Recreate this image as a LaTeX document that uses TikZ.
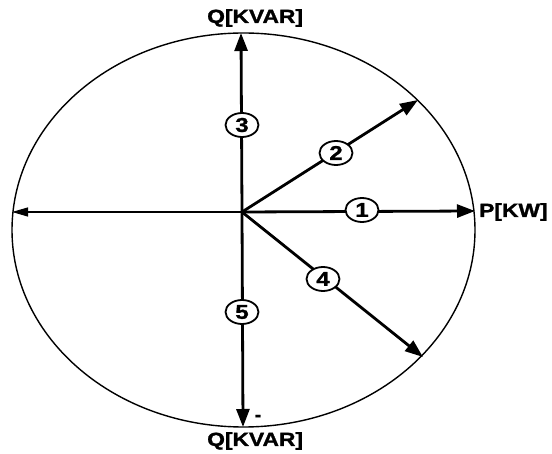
\documentclass[tikz,border=0pt]{standalone}
\usepackage{fontspec}
\setmainfont{Liberation Sans}
\newfontfamily\heavyfont[FakeBold=1.2]{Liberation Sans Bold}
\usetikzlibrary{arrows.meta,shapes.geometric}
\newcommand{\wide}[1]{\scalebox{1.2}[1]{#1}}
\begin{document}
\begin{tikzpicture}[x=1pt,y=-1pt,
  vec/.style={line width=2.8pt,-{Triangle[length=18pt,width=13pt]}},
  thinvec/.style={line width=1.2pt,-{Triangle[length=16pt,width=9pt]}},
  numlab/.style={draw,ellipse,line width=1.8pt,fill=white,inner sep=0pt,
    minimum width=33pt,minimum height=24pt,font=\heavyfont\fontsize{20}{20}\selectfont},
  axlab/.style={font=\heavyfont\fontsize{19}{19}\selectfont,inner sep=0pt}]
\useasboundingbox (0,0) rectangle (552,454);
\coordinate (O) at (242,212);
\coordinate (T) at (241,33);
\coordinate (B) at (243,427);
\coordinate (R) at (475,211);
\coordinate (L) at (12,212);
\coordinate (A2) at (418,100);
\coordinate (A4) at (423,357);
\draw[line width=1.4pt] (243.5,230) ellipse [x radius=231.5,y radius=197];
\draw[thinvec] (O) -- (L);
\draw[vec] (O) -- (T);
\draw[vec] (O) -- (B);
\draw[vec] (O) -- (R);
\draw[vec] (O) -- (A2);
\draw[vec] (O) -- (A4);
\node[numlab] (n3) at (242,125) {\wide{3}};
\node[numlab] (n2) at (336,153) {\wide{2}};
\node[numlab] (n1) at (362,210) {\wide{1}};
\node[numlab] (n4) at (323,279) {\wide{4}};
\node[numlab] (n5) at (242,312) {\wide{5}};
\node[axlab,anchor=west] (qt) at (207,18) {\wide{Q[KVAR]}};
\node[axlab,anchor=west] (qb) at (207,441) {\wide{Q[KVAR]}};
\node[axlab,anchor=west] (pk) at (479,212) {\wide{P[KW]}};
\node[axlab] (minus) at (258,418) {-};
\end{tikzpicture}
\end{document}
